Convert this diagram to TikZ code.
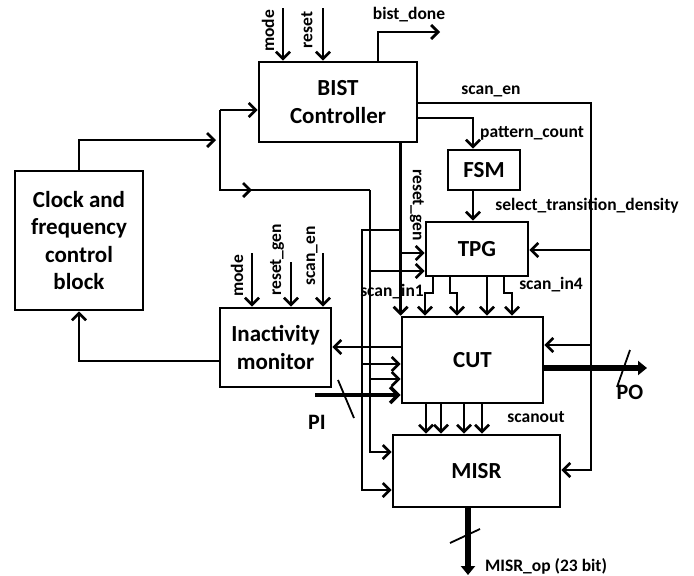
\documentclass[tikz,border=0pt]{standalone}
\usepackage{fontspec}
\setmainfont{Carlito}
\usetikzlibrary{arrows.meta}
\begin{document}
\begin{tikzpicture}[x=1pt, y=-1pt, line width=2.7pt,
    block/.style={draw, align=center, inner sep=0pt, font=\fontsize{23}{27.5}\selectfont\bfseries},
    sig/.style={inner sep=0pt, font=\fontsize{17.5}{20}\selectfont\bfseries},
    port/.style={inner sep=0pt, font=\fontsize{22}{24}\selectfont\bfseries},
    bus/.style={line width=5.5pt, -{Triangle[length=9pt,width=14pt]}},
    >={Straight Barb[length=7pt,width=14pt]}]
    \useasboundingbox (0,0) rectangle (694,576);
    \node[block, minimum width=128pt, minimum height=139pt] (clk) at (79,240.5) {Clock and\\frequency\\control\\block};
    \node[block, minimum width=158pt, minimum height=80pt] (bist) at (338,102) {BIST\\Controller};
    \node[block, minimum width=72pt, minimum height=40pt] (fsm) at (484,170) {FSM};
    \node[block, minimum width=102pt, minimum height=54pt] (tpg) at (477,249) {TPG};
    \node[block, minimum width=141pt, minimum height=86pt] (cut) at (472.5,360) {CUT};
    \node[block, minimum width=167pt, minimum height=72pt] (misr) at (476.5,471) {MISR};
    \node[block, minimum width=111pt, minimum height=79pt] (inact) at (275.5,347.5) {Inactivity\\monitor};
    \coordinate (busT) at (220,110);
    \coordinate (busB) at (220,190);
    \coordinate (clkL) at (370,190);
    \coordinate (rgA) at (402,230);
    \coordinate (rgL) at (362,230);
    \coordinate (enR) at (591,103);
    \draw[->] (clk.north) |- (216,140);
    \draw (busT) -- (busB) -- (clkL);
    \draw[->] (busT) -- (bist.west |- busT);
    \draw[->] (busB) -- (252,190);
    \draw[->] (clkL) |- (misr.west |- 0,452);
    \draw[->] (clkL |- 0,271) -- (tpg.west |- 0,271);
    \draw[->] (clkL |- 0,379) -- (cut.west |- 0,379);
    \draw[->] (bist.south -| cut.north west) -- (cut.north west);
    \draw[->] (rgA |- 0,253) -- (tpg.west |- 0,253);
    \draw[->] (rgA) -- (rgL) |- (misr.west |- 0,490);
    \draw[->] (rgL |- 0,364) -- (cut.west |- 0,364);
    \draw[->] (cut.west |- 0,347) -- (inact.east |- 0,347);
    \draw[->] (inact.west |- 0,361) -| (clk.south);
    \draw[->] (bist.east |- enR) -- (enR) |- (misr.east |- 0,470);
    \draw[->] (enR |- 0,250) -- (tpg.east |- 0,250);
    \draw[->] (enR |- 0,345) -- (cut.east |- 0,345);
    \draw[->] (bist.east |- 0,118) -| (fsm.north -| 473,0);
    \draw[->] (fsm.south -| 473,0) -- (tpg.north -| 473,0);
    \draw[->] (bist.north -| 378,0) |- (440,32);
    \draw[->] (283,8) -- (bist.north -| 283,0);
    \draw[->] (323,8) -- (bist.north -| 323,0);
    \draw[->] (252,253) -- (inact.north -| 252,0);
    \draw[->] (291,262) -- (inact.north -| 291,0);
    \draw[->] (323,253) -- (inact.north -| 323,0);
    \foreach \a/\b in {433/425, 450/457, 487/487, 504/512}
        \draw[->] (tpg.south -| \a,0) -- (\a,293) -- (\b,293) -- (cut.north -| \b,0);
    \foreach \x in {426,441,464,482}
        \draw[->] (cut.south -| \x,0) -- (misr.north -| \x,0);
    \draw[line width=3.5pt, -{Straight Barb[length=8pt,width=16pt]}] (315,395) -- (cut.west |- 0,395);
    \draw[line width=1.8pt] (338,380) -- (354,418);
    \draw[bus] (cut.east |- 0,368) -- (647,368);
    \draw[line width=1.8pt] (630,350) -- (617,387);
    \draw[bus] (misr.south -| 468,0) -- (468,575);
    \draw[line width=1.8pt] (450,543) -- (480,529);
    \node[sig] (done) at (409,15) {bist\_done};
    \node[sig, rotate=90] (bmode) at (268,31) {mode};
    \node[sig, rotate=90] (breset) at (307,30) {reset};
    \node[sig] (en) at (491,91) {scan\_en};
    \node[sig] (pc) at (532,133) {pattern\_count};
    \node[sig] (std) at (587,206) {select\_transition\_density};
    \node[sig, rotate=-90] (rg) at (417,205) {reset\_gen};
    \node[sig] (in1) at (392,292) {scan\_in1};
    \node[sig] (in4) at (551,285) {scan\_in4};
    \node[sig] (so) at (536,417) {scanout};
    \node[sig, rotate=90] (imode) at (237,276) {mode};
    \node[sig, rotate=90] (irg) at (277,260) {reset\_gen};
    \node[sig, rotate=90] (ien) at (312,256) {scan\_en};
    \node[port] (pi) at (317,422) {PI};
    \node[port] (po) at (630,392) {PO};
    \node[sig] (mop) at (546,566) {MISR\_op (23 bit)};
\end{tikzpicture}
\end{document}
